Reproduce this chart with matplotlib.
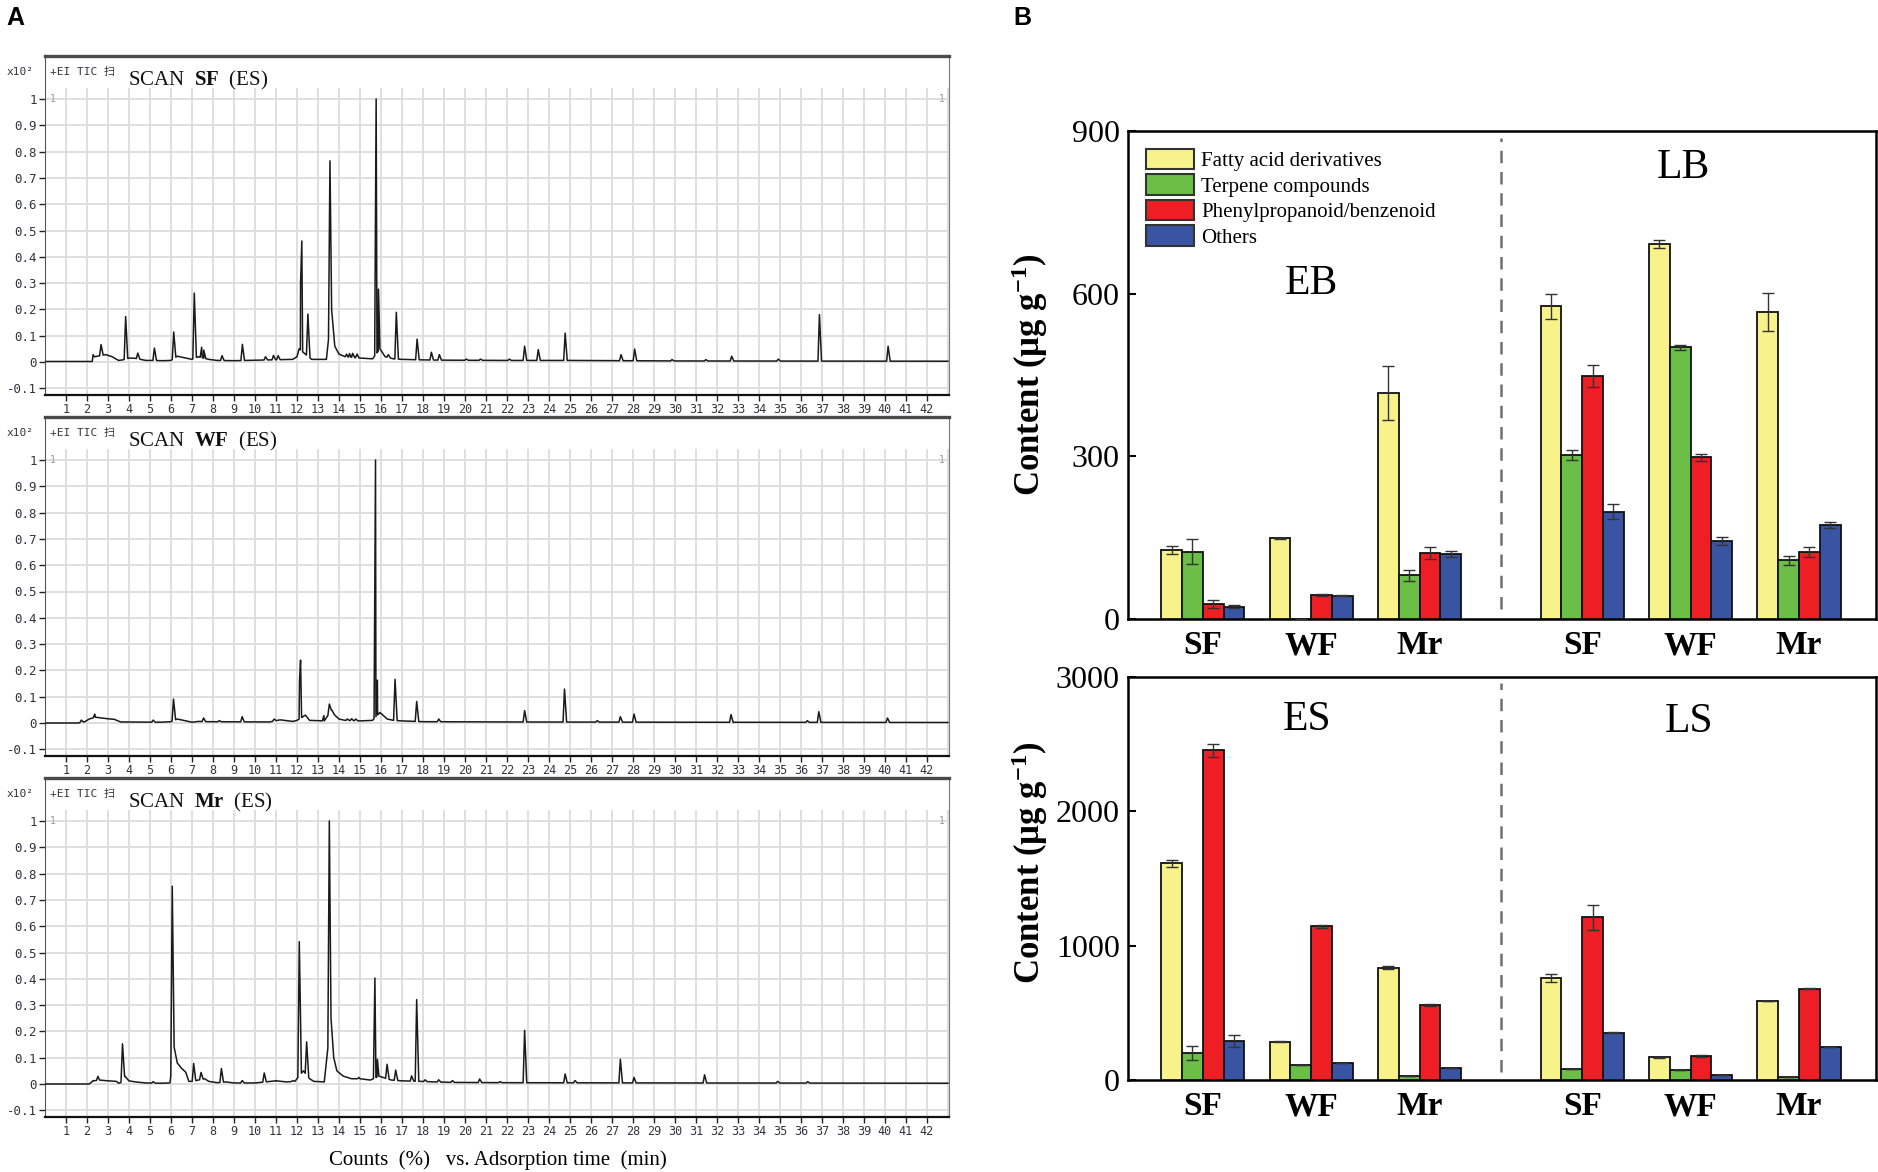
import numpy as np
import matplotlib
matplotlib.use("Agg")
import matplotlib.pyplot as plt
from matplotlib.patches import Patch

plt.rcParams['font.family'] = ['Liberation Serif', 'DejaVu Serif']
plt.rcParams['mathtext.fontset'] = 'custom'
plt.rcParams['mathtext.rm'] = 'Liberation Serif'
plt.rcParams['mathtext.bf'] = 'Liberation Serif:bold'
plt.rcParams['mathtext.it'] = 'Liberation Serif:italic'

# ---------------- Panel A data (chromatograms) ----------------
samples = ['SF', 'WF', 'Mr']

sf_peak_rt = [2.29, 2.67, 3.84, 4.42, 5.21, 6.13, 7.11, 7.46, 7.56, 8.43, 9.40, 10.50, 10.88, 11.10,
              12.17, 12.23, 12.52, 13.57, 14.36, 14.50, 14.65, 14.86, 15.77, 15.88, 16.35, 16.73,
              17.72, 18.40, 18.78, 20.06, 20.74, 22.11, 22.84, 23.49, 24.77, 27.43, 28.08, 29.86,
              31.47, 32.70, 34.92, 36.88, 40.15]
sf_peak_h = [0.028, 0.066, 0.173, 0.034, 0.053, 0.114, 0.262, 0.056, 0.045, 0.024, 0.067, 0.020, 0.025, 0.024,
             0.300, 0.460, 0.182, 0.765, 0.030, 0.032, 0.033, 0.030, 1.000, 0.277, 0.028, 0.189,
             0.087, 0.037, 0.028, 0.011, 0.011, 0.011, 0.060, 0.047, 0.110, 0.028, 0.049, 0.009,
             0.009, 0.022, 0.011, 0.180, 0.060]
sf_base_rt = [0, 2.25, 2.35, 2.9, 3.2, 3.5, 3.7, 4.0, 4.3, 4.8, 5.1, 5.6, 6.0, 6.3, 6.7, 7.0, 7.3,
              7.8, 8.2, 9.0, 11.8, 12.0, 12.1, 12.4, 12.7, 13.4, 13.65, 13.8, 14.0, 14.3, 15.0,
              15.6, 15.95, 16.2, 16.6, 17.0, 18.0, 19.0, 22.0, 25.0, 30.0, 43.0]
sf_base_y = [0.002, 0.002, 0.020, 0.028, 0.020, 0.006, 0.008, 0.015, 0.014, 0.006, 0.006, 0.005, 0.006,
             0.022, 0.015, 0.010, 0.020, 0.010, 0.006, 0.005, 0.010, 0.020, 0.050, 0.030, 0.010, 0.010,
             0.200, 0.060, 0.030, 0.020, 0.015, 0.012, 0.050, 0.020, 0.012, 0.010, 0.008, 0.007, 0.006,
             0.006, 0.004, 0.003]

wf_peak_rt = [1.73, 2.37, 5.15, 6.12, 7.55, 8.30, 9.39, 10.91, 12.12, 12.17, 13.28, 13.54, 14.40, 14.60,
              14.80, 15.74, 15.83, 16.67, 17.70, 18.75, 22.84, 24.74, 26.30, 27.40, 28.05, 32.67,
              36.30, 36.85, 40.12]
wf_peak_h = [0.011, 0.034, 0.011, 0.091, 0.019, 0.009, 0.024, 0.015, 0.160, 0.239, 0.028, 0.072, 0.015, 0.016,
             0.015, 1.000, 0.163, 0.166, 0.082, 0.015, 0.047, 0.129, 0.009, 0.024, 0.034, 0.032,
             0.009, 0.043, 0.019]
wf_base_rt = [0, 1.6, 1.9, 2.1, 2.4, 3.0, 3.3, 3.6, 5.5, 6.0, 6.3, 6.6, 7.0, 7.3, 7.8, 10.7, 11.2,
              11.8, 12.0, 12.4, 12.6, 13.3, 13.65, 13.8, 14.0, 14.3, 15.0, 15.6, 15.95, 16.3, 16.6,
              17.0, 18.0, 22.0, 30.0, 43.0]
wf_base_y = [0.000, 0.000, 0.005, 0.015, 0.022, 0.016, 0.014, 0.004, 0.003, 0.005, 0.015, 0.010, 0.003,
             0.006, 0.005, 0.004, 0.012, 0.006, 0.010, 0.030, 0.010, 0.008, 0.050, 0.030, 0.015, 0.010,
             0.008, 0.010, 0.040, 0.015, 0.010, 0.008, 0.005, 0.004, 0.003, 0.002]

mr_peak_rt = [2.29, 2.52, 3.69, 5.15, 6.06, 7.08, 7.43, 8.40, 9.39, 10.44, 11.00, 11.80, 12.11, 12.46,
              13.54, 14.95, 15.71, 15.83, 16.29, 16.70, 17.46, 17.70, 18.10, 18.75, 19.40, 20.70,
              21.67, 22.84, 24.77, 25.24, 27.40, 28.05, 31.41, 34.89, 36.32]
mr_peak_h = [0.013, 0.029, 0.153, 0.009, 0.752, 0.078, 0.044, 0.059, 0.013, 0.042, 0.013, 0.013, 0.541, 0.160,
             1.000, 0.025, 0.403, 0.094, 0.075, 0.053, 0.031, 0.321, 0.016, 0.016, 0.013, 0.019,
             0.009, 0.204, 0.038, 0.013, 0.094, 0.025, 0.035, 0.010, 0.009]
mr_base_rt = [0, 2.1, 2.3, 2.6, 3.0, 3.4, 3.5, 3.6, 3.8, 4.0, 4.3, 4.8, 5.5, 5.95, 6.15, 6.3, 6.5,
              6.7, 6.85, 7.0, 7.6, 7.8, 8.2, 8.6, 9.0, 10.0, 11.0, 11.5, 11.9, 12.0, 12.3, 12.6,
              12.8, 13.3, 13.62, 13.75, 13.9, 14.2, 14.6, 15.0, 15.5, 15.9, 16.1, 16.5, 17.0, 17.9,
              18.5, 19.5, 22.0, 30.0, 43.0]
mr_base_y = [0.000, 0.000, 0.012, 0.015, 0.012, 0.010, 0.003, 0.005, 0.030, 0.012, 0.008, 0.004, 0.003,
             0.004, 0.140, 0.080, 0.060, 0.045, 0.010, 0.010, 0.020, 0.010, 0.005, 0.008, 0.004, 0.004,
             0.012, 0.008, 0.010, 0.020, 0.050, 0.020, 0.010, 0.008, 0.250, 0.100, 0.050, 0.030, 0.020,
             0.020, 0.015, 0.030, 0.025, 0.015, 0.012, 0.010, 0.008, 0.006, 0.005, 0.004, 0.003]

chrom = {
    'SF': (sf_peak_rt, sf_peak_h, sf_base_rt, sf_base_y),
    'WF': (wf_peak_rt, wf_peak_h, wf_base_rt, wf_base_y),
    'Mr': (mr_peak_rt, mr_peak_h, mr_base_rt, mr_base_y),
}
x_ticks_min = list(range(1, 43))
y_ticks_counts = [-0.1, 0, 0.1, 0.2, 0.3, 0.4, 0.5, 0.6, 0.7, 0.8, 0.9, 1.0]
y_tick_labels = ['-0.1', '0', '0.1', '0.2', '0.3', '0.4', '0.5', '0.6', '0.7', '0.8', '0.9', '1']

# ---------------- Panel B data ----------------
groups = ['SF', 'WF', 'Mr']
categories = ['Fatty acid derivatives', 'Terpene compounds', 'Phenylpropanoid/benzenoid', 'Others']

eb_fatty = [127, 149, 417]; eb_terp = [124, 0, 81]; eb_phen = [28, 44, 121]; eb_oth = [23, 43, 120]
eb_fatty_err = [8, 1, 50]; eb_terp_err = [23, 0, 10]; eb_phen_err = [7, 2, 11]; eb_oth_err = [3, 1, 6]
lb_fatty = [577, 692, 567]; lb_terp = [302, 501, 108]; lb_phen = [448, 298, 123]; lb_oth = [198, 144, 173]
lb_fatty_err = [23, 7, 35]; lb_terp_err = [9, 4, 8]; lb_phen_err = [20, 6, 9]; lb_oth_err = [14, 7, 6]

es_fatty = [1612, 286, 835]; es_terp = [200, 109, 32]; es_phen = [2454, 1143, 558]; es_oth = [289, 128, 91]
es_fatty_err = [27, 5, 10]; es_terp_err = [52, 0, 0]; es_phen_err = [50, 10, 5]; es_oth_err = [46, 0, 0]
ls_fatty = [760, 168, 588]; ls_terp = [79, 74, 20]; ls_phen = [1210, 178, 679]; ls_oth = [351, 35, 249]
ls_fatty_err = [30, 3, 0]; ls_terp_err = [0, 0, 0]; ls_phen_err = [94, 5, 3]; ls_oth_err = [3, 0, 0]

colors = ['#F7F38A', '#6BBE46', '#ED1F24', '#3A54A4']

# ---------------- figure ----------------
W, H = 1878, 1172
fig = plt.figure(figsize=(W / 100, H / 100), dpi=100)


def rect(l, t, r, b):
    return [l / W, 1 - b / H, (r - l) / W, (b - t) / H]


mono = ['DejaVu Sans Mono', 'Noto Sans CJK SC']
XMAX = 43.05
for i, s in enumerate(samples):
    top = 56 + 361 * i
    bot = 395 + 361 * i
    ax = fig.add_axes(rect(45, top, 949, bot))
    y0 = -(395 - 362) / 263.0
    y1 = (362 - 56) / 263.0
    gtop = (362 - 88) / 263.0
    ax.set_xlim(0, XMAX)
    ax.set_ylim(y0, y1)
    ax.vlines(np.arange(1, 44), y0, gtop, color='#dcdcdc', lw=1.3, zorder=0)
    ax.hlines(y_ticks_counts, 0, XMAX, color='#dcdcdc', lw=1.3, zorder=0)
    prt, ph, brt, by = chrom[s]
    xs = list(brt)
    ys = list(by)
    for rt, h in zip(prt, ph):
        for dx, yy in ((-0.07, None), (0.0, h), (0.10, None)):
            xv = rt + dx
            xs.append(xv)
            ys.append(np.interp(xv, brt, by) if yy is None else yy)
    order = np.argsort(xs, kind='stable')
    ax.plot(np.array(xs)[order], np.array(ys)[order], color='#1a1a1a', lw=1.1, zorder=3)
    ax.set_xticks(x_ticks_min)
    ax.set_xticklabels([str(v) for v in x_ticks_min], family=mono, fontsize=8.5, color='#333340')
    ax.set_yticks(y_ticks_counts)
    ax.set_yticklabels(y_tick_labels, family=mono, fontsize=9, color='#333340')
    ax.tick_params(axis='x', length=4, width=1, pad=2, colors='#222')
    ax.tick_params(axis='y', length=4, width=1, pad=2, colors='#222')
    for lab in ax.get_xticklabels() + ax.get_yticklabels():
        lab.set_color('#333340')
    ax.spines['top'].set_linewidth(2.4)
    ax.spines['top'].set_color('#4a4a4a')
    ax.spines['left'].set_color('#555')
    ax.spines['right'].set_color('#777')
    ax.spines['bottom'].set_linewidth(1.6)
    ax.spines['bottom'].set_color('#111')
    ax.text(0.0918, (395 - 80) / 339.0, r'SCAN  $\mathbf{' + s + r'}$  (ES)', transform=ax.transAxes,
            fontsize=15, va='center', ha='left', color='#111')
    ax.text(0.006, (395 - 72) / 339.0, '+EI TIC 扫', transform=ax.transAxes, family=mono,
            fontsize=8, va='center', ha='left', color='#333340')
    ax.text(-0.043, (395 - 72) / 339.0, 'x10²', transform=ax.transAxes, family=mono,
            fontsize=8, va='center', ha='left', color='#333340')
    ax.text(0.25, 1.0, '1', fontsize=7, color='#999', va='center', ha='left', family=mono)
    ax.text(XMAX - 0.2, 1.0, '1', fontsize=7, color='#999', va='center', ha='right', family=mono)

fig.text(498 / W, 1 - 1160 / H, 'Counts  (%)   vs. Adsorption time  (min)', fontsize=15,
         ha='center', va='center')

fig.text(6 / W, 1 - 6 / H, 'A', fontsize=18, weight='bold', family='Liberation Sans', va='top')
fig.text(1013 / W, 1 - 6 / H, 'B', fontsize=18, weight='bold', family='Liberation Sans', va='top')

# ---------------- Panel B ----------------
early_pos = np.array([0.0, 1.0, 2.0])
late_pos = np.array([3.5, 4.5, 5.5])
bw = 0.192
offsets = (np.arange(4) - 1.5) * bw


def draw_bars(ax, early, early_err, late, late_err):
    for k in range(4):
        for pos, vals, errs in ((early_pos, early[k], early_err[k]), (late_pos, late[k], late_err[k])):
            ax.bar(pos + offsets[k], vals, width=bw, color=colors[k], edgecolor='#111', lw=1.3, zorder=3)
            ax.errorbar(pos + offsets[k], vals, yerr=errs, fmt='none', ecolor='#333', elinewidth=1.0,
                        capsize=4.5, capthick=1.0, zorder=4)


def style_ax(ax, yticks):
    ax.set_xlim(-0.69, 6.21)
    ax.set_ylim(yticks[0], yticks[-1])
    ax.set_yticks(yticks)
    ax.set_yticklabels([str(v) for v in yticks], fontsize=23)
    ax.set_xticks(np.concatenate([early_pos, late_pos]))
    ax.set_xticklabels(groups + groups, fontsize=24, weight='bold')
    ax.tick_params(axis='y', direction='in', length=6, width=1.5, pad=6)
    ax.tick_params(axis='x', length=0, pad=8)
    for sp in ax.spines.values():
        sp.set_linewidth(1.8)
    ax.axvline(2.75, ymin=0.02, ymax=0.985, color='#707070', lw=1.8, ls=(0, (5, 3.5)), zorder=2)
    ax.set_ylabel(r'Content ($\mathbf{\mu}$g g$^{\mathbf{-1}}$)', fontsize=25, weight='bold')


ax_t = fig.add_axes(rect(1128, 131, 1876, 619))
draw_bars(ax_t, [eb_fatty, eb_terp, eb_phen, eb_oth], [eb_fatty_err, eb_terp_err, eb_phen_err, eb_oth_err],
          [lb_fatty, lb_terp, lb_phen, lb_oth], [lb_fatty_err, lb_terp_err, lb_phen_err, lb_oth_err])
style_ax(ax_t, [0, 300, 600, 900])
ax_t.yaxis.set_label_coords(-0.104, 0.5)
ax_t.text(1.0, 618, 'EB', fontsize=30, ha='center', va='center')
ax_t.text(4.43, 832, 'LB', fontsize=30, ha='center', va='center')
handles = [Patch(facecolor=c, edgecolor='#333', lw=1.5) for c in colors]
ax_t.legend(handles, categories, loc='upper left', bbox_to_anchor=(0.0, 1.0), frameon=False,
            fontsize=15, handlelength=2.3, handleheight=1.15, labelspacing=0.15,
            handletextpad=0.35, borderpad=0.55, borderaxespad=0.3)

ax_b = fig.add_axes(rect(1128, 677, 1876, 1080))
draw_bars(ax_b, [es_fatty, es_terp, es_phen, es_oth], [es_fatty_err, es_terp_err, es_phen_err, es_oth_err],
          [ls_fatty, ls_terp, ls_phen, ls_oth], [ls_fatty_err, ls_terp_err, ls_phen_err, ls_oth_err])
style_ax(ax_b, [0, 1000, 2000, 3000])
ax_b.yaxis.set_label_coords(-0.104, 0.54)
ax_b.text(0.96, 2680, 'ES', fontsize=30, ha='center', va='center')
ax_b.text(4.49, 2665, 'LS', fontsize=30, ha='center', va='center')

fig.savefig('out.png', dpi=100)
